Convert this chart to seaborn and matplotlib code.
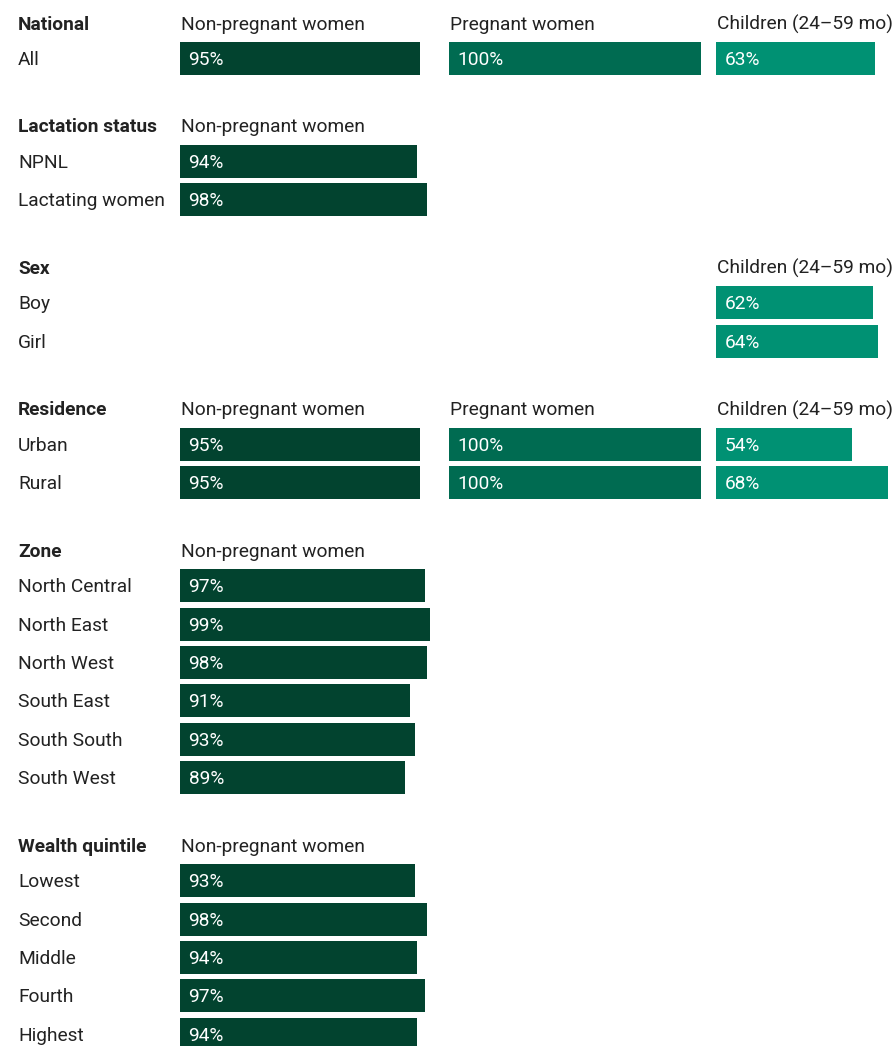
import numpy as np
import pandas as pd
import matplotlib.pyplot as plt
import seaborn as sns

# ---- data ----
group_names = ['National', 'Lactation status', 'Sex', 'Residence', 'Zone', 'Wealth quintile']
row_group = ['National',
             'Lactation status', 'Lactation status',
             'Sex', 'Sex',
             'Residence', 'Residence',
             'Zone', 'Zone', 'Zone', 'Zone', 'Zone', 'Zone',
             'Wealth quintile', 'Wealth quintile', 'Wealth quintile', 'Wealth quintile', 'Wealth quintile']
row_label = ['All',
             'NPNL', 'Lactating women',
             'Boy', 'Girl',
             'Urban', 'Rural',
             'North Central', 'North East', 'North West', 'South East', 'South South', 'South West',
             'Lowest', 'Second', 'Middle', 'Fourth', 'Highest']
non_pregnant = [95, 94, 98, np.nan, np.nan, 95, 95, 97, 99, 98, 91, 93, 89, 93, 98, 94, 97, 94]
pregnant = [100, np.nan, np.nan, np.nan, np.nan, 100, 100] + [np.nan] * 11
children = [63, np.nan, np.nan, 62, 64, 54, 68] + [np.nan] * 11

series_names = ['Non-pregnant women', 'Pregnant women', 'Children (24\u201359 mo)']
series_values = [non_pregnant, pregnant, children]
series_colors = ['#02432f', '#006b51', '#009173']

# ---- layout (pixel rows) ----
W, H = 895, 1046
step, head_gap, group_gap = 38.4, 35.5, 67.5
header_y = {}
row_y = []
y = 58.5 - head_gap
prev = None
for g in row_group:
    if g != prev:
        if prev is not None:
            y = row_y[-1] + group_gap
        header_y[g] = y
        y = y + head_gap
        prev = g
    else:
        y = y + step
    row_y.append(y)

df = pd.DataFrame({'group': row_group, 'label': row_label, 'y': row_y})
for name, vals in zip(series_names, series_values):
    df[name] = vals

plt.rcParams['font.family'] = ['Roboto', 'DejaVu Sans']
fig = plt.figure(figsize=(W / 100, H / 100), dpi=100)

text_color = '#222222'
fs = 13.8
dy = 1.5  # nudge text down a little (px)

# background axes for row / group labels
bg = fig.add_axes([0, 0, 1, 1])
bg.set_xlim(0, W)
bg.set_ylim(H, 0)
bg.axis('off')
for g in group_names:
    bg.text(18, header_y[g] + dy, g, fontsize=fs, fontweight='bold', color=text_color, va='center')
for lab, yy in zip(row_label, row_y):
    bg.text(18, yy + dy, lab, fontsize=fs, color=text_color, va='center')

col_left = [180, 449, 716]
px_per_100 = 252.5
for name, color, left in zip(series_names, series_colors, col_left):
    ax = fig.add_axes([left / W, 0, px_per_100 / W, 1])
    sub = df.dropna(subset=[name])
    sns.barplot(data=sub, x=name, y='y', orient='h', native_scale=True,
                color=color, width=0.86, errorbar=None, saturation=1, ax=ax)
    ax.set_xlim(0, 100)
    ax.set_ylim(H, 0)
    ax.axis('off')
    for g in sub['group'].unique():
        ax.annotate(name, xy=(0, header_y[g]), xytext=(0.7, -dy * 0.72), textcoords='offset points',
                    fontsize=fs, color=text_color, va='center', annotation_clip=False)
    for v, yy in zip(sub[name], sub['y']):
        ax.annotate(f'{v:.0f}%', xy=(0, yy), xytext=(6.2, -dy * 0.72), textcoords='offset points',
                    fontsize=fs, color='white', va='center')

plt.savefig('out.png', dpi=100)
